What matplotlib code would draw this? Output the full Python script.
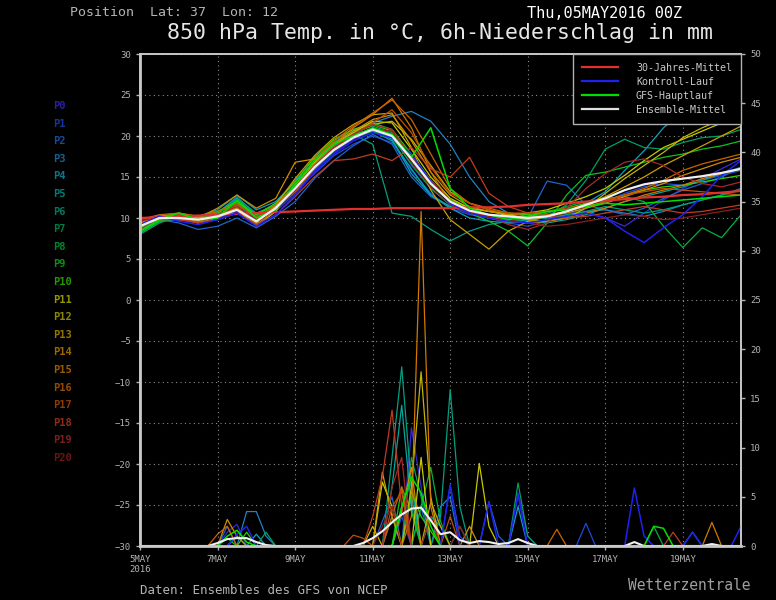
import numpy as np
from matplotlib import pyplot as plt
from matplotlib.lines import Line2D

plt.rcParams['font.family'] = ['DejaVu Sans Mono', 'DejaVu Sans']

# Zeitachse: Tage ab 05MAY2016 00Z
tage_t = np.arange(0, 16, 0.5)      # Temperatur, 12h
tage_r = np.arange(0, 15.75, 0.25)  # Niederschlag, 6h
n_r = len(tage_r)

x_ticks = [0, 2, 4, 6, 8, 10, 12, 14]
x_labels = ['5MAY\n2016', '7MAY', '9MAY', '11MAY', '13MAY', '15MAY', '17MAY', '19MAY']

# 850 hPa Temperatur (°C)
t_klima = [10.0, 10.1, 10.2, 10.3, 10.4, 10.5, 10.6, 10.7, 10.8, 10.9, 11.0, 11.1, 11.1, 11.2, 11.2, 11.2,
           11.2, 11.3, 11.3, 11.4, 11.6, 11.7, 11.8, 12.0, 12.1, 12.3, 12.5, 12.6, 12.8, 12.9, 13.1, 13.3]
t_mittel = [9.0, 10.0, 10.0, 9.8, 10.2, 11.0, 9.6, 11.2, 13.6, 16.2, 18.3, 19.8, 20.8, 20.0, 17.2, 14.2,
            12.0, 10.9, 10.4, 10.2, 10.0, 10.2, 10.8, 11.6, 12.4, 13.4, 14.1, 14.5, 14.8, 15.1, 15.5, 16.0]
t_kontroll = [9.2, 10.2, 9.6, 9.2, 9.8, 10.6, 9.0, 10.4, 12.8, 15.6, 17.8, 19.4, 20.4, 19.8, 17.8, 14.4,
              11.8, 10.6, 10.0, 9.6, 9.4, 9.8, 10.2, 10.6, 10.0, 8.4, 7.0, 8.8, 10.4, 12.6, 15.2, 17.0]
t_haupt = [8.4, 9.8, 10.6, 9.8, 10.0, 12.2, 10.0, 11.0, 14.0, 17.0, 19.0, 20.0, 21.0, 20.2, 17.4, 21.0,
           13.6, 11.2, 10.4, 9.8, 10.2, 10.8, 11.0, 11.4, 11.8, 11.6, 11.8, 12.0, 12.2, 12.4, 12.6, 12.8]

t_p0 = [9.0, 10.4, 9.8, 9.4, 10.0, 10.8, 9.2, 10.8, 13.0, 15.8, 18.0, 19.6, 20.6, 20.2, 16.4, 13.6,
        11.6, 10.6, 10.0, 9.6, 9.8, 10.6, 11.2, 10.8, 10.0, 9.0, 10.6, 12.2, 13.6, 14.8, 16.0, 17.2]
t_p1 = [9.4, 10.0, 10.2, 9.6, 10.4, 11.4, 9.8, 11.0, 13.2, 15.4, 17.6, 19.0, 20.0, 19.2, 15.8, 13.0,
        11.2, 10.4, 10.0, 9.4, 9.0, 9.6, 10.4, 11.2, 12.0, 13.0, 13.8, 14.2, 14.0, 14.6, 15.2, 15.8]
t_p2 = [8.8, 9.8, 9.4, 8.6, 9.0, 10.0, 8.8, 10.2, 12.0, 14.8, 17.0, 18.8, 20.2, 19.0, 15.0, 12.6,
        11.4, 10.6, 10.2, 10.4, 10.0, 14.5, 14.0, 11.6, 11.0, 10.4, 11.2, 12.4, 13.4, 14.2, 15.0, 16.2]
t_p3 = [9.2, 10.2, 10.0, 9.4, 10.6, 12.6, 10.4, 11.8, 14.6, 17.2, 19.4, 20.8, 21.6, 22.4, 23.0, 21.8,
        19.0, 15.0, 12.0, 10.6, 10.4, 10.0, 10.2, 10.8, 11.0, 10.6, 10.2, 10.8, 11.6, 12.2, 12.8, 13.6]
t_p4 = [8.6, 9.6, 10.0, 10.2, 11.0, 12.8, 11.0, 12.0, 14.4, 16.8, 18.8, 20.2, 20.8, 19.6, 15.4, 12.8,
        11.2, 10.0, 9.6, 9.4, 9.8, 10.2, 10.8, 11.8, 13.2, 15.8, 18.2, 21.0, 23.0, 24.0, 24.5, 24.5]
t_p5 = [8.2, 9.6, 9.8, 10.0, 10.6, 12.4, 10.2, 11.4, 13.8, 16.4, 18.6, 20.0, 20.6, 19.4, 16.0, 12.8,
        11.4, 10.8, 10.4, 10.0, 9.6, 9.4, 9.8, 10.4, 11.2, 12.0, 12.6, 13.2, 13.8, 14.6, 15.4, 16.2]
t_p6 = [8.0, 9.4, 10.2, 10.0, 10.4, 12.4, 10.6, 11.6, 13.8, 16.6, 18.8, 20.2, 19.0, 10.6, 10.2, 8.6,
        7.2, 8.4, 9.2, 9.6, 9.8, 10.0, 10.4, 10.8, 11.4, 11.0, 10.6, 11.0, 11.6, 12.2, 12.8, 13.4]
t_p7 = [8.6, 9.8, 10.4, 9.8, 10.6, 12.0, 10.2, 11.4, 14.2, 17.0, 19.2, 20.4, 21.2, 20.4, 17.0, 14.0,
        12.0, 10.8, 10.4, 10.0, 9.8, 10.2, 11.6, 14.6, 18.4, 19.6, 18.6, 18.4, 19.2, 19.8, 20.0, 20.8]
t_p8 = [8.4, 9.6, 10.0, 9.6, 10.2, 11.6, 10.0, 11.0, 13.4, 16.0, 18.2, 19.8, 20.6, 19.8, 16.6, 13.6,
        11.6, 10.8, 10.4, 10.2, 10.0, 10.6, 11.4, 12.0, 12.4, 12.6, 12.0, 9.0, 6.4, 8.8, 7.6, 10.4]
t_p9 = [8.2, 9.6, 10.4, 10.0, 10.6, 11.8, 10.4, 11.6, 14.0, 17.0, 19.2, 20.6, 21.6, 20.8, 17.8, 14.6,
        12.0, 10.6, 9.6, 8.4, 6.6, 9.4, 12.8, 15.2, 15.6, 16.2, 16.8, 17.4, 17.8, 18.4, 18.8, 19.4]
t_p10 = [8.8, 10.2, 10.6, 10.2, 10.8, 12.0, 10.4, 11.8, 14.4, 17.4, 19.6, 20.8, 21.4, 20.6, 17.6, 14.4,
         12.2, 11.2, 10.8, 10.6, 10.4, 10.8, 11.2, 11.8, 12.2, 12.8, 13.4, 13.8, 14.0, 14.4, 14.8, 15.2]
t_p11 = [9.0, 10.0, 9.8, 9.8, 10.4, 11.2, 9.4, 11.4, 14.0, 16.8, 19.0, 20.4, 21.8, 21.6, 18.4, 15.0,
         12.4, 11.2, 10.8, 10.4, 10.6, 11.0, 11.8, 12.6, 13.6, 15.2, 17.0, 18.6, 19.6, 20.6, 21.6, 22.6]
t_p12 = [9.2, 9.8, 10.2, 10.0, 10.2, 11.0, 9.0, 10.8, 14.0, 16.4, 18.6, 20.2, 21.4, 21.8, 19.6, 16.4,
         13.2, 11.8, 11.0, 10.2, 9.8, 9.6, 10.0, 11.2, 13.0, 14.8, 16.4, 18.0, 19.8, 21.0, 22.0, 22.4]
t_p13 = [9.4, 10.2, 10.0, 9.6, 10.2, 11.4, 9.4, 11.6, 14.8, 17.6, 19.8, 21.4, 22.6, 22.8, 18.6, 13.4,
         9.8, 8.0, 6.2, 8.4, 9.6, 10.2, 10.8, 11.6, 12.6, 13.8, 15.0, 16.4, 17.6, 18.8, 20.0, 21.2]
t_p14 = [9.6, 10.2, 10.4, 10.0, 11.2, 12.8, 11.2, 12.4, 16.8, 17.2, 19.0, 20.6, 22.0, 22.6, 19.4, 15.6,
         12.8, 11.4, 10.8, 10.4, 10.0, 10.2, 10.6, 11.2, 11.8, 12.6, 13.4, 14.2, 15.2, 16.0, 16.8, 17.4]
t_p15 = [9.4, 9.8, 10.0, 9.4, 10.0, 11.2, 9.2, 11.0, 13.6, 16.6, 19.0, 21.0, 22.6, 24.6, 21.0, 15.6,
         11.8, 10.8, 10.2, 9.6, 9.4, 9.6, 10.0, 10.6, 11.2, 12.0, 12.8, 13.4, 14.0, 14.8, 15.4, 16.0]
t_p16 = [9.8, 10.4, 10.6, 10.2, 10.8, 11.8, 10.0, 11.6, 14.0, 17.0, 19.4, 21.2, 22.8, 24.4, 22.0, 17.8,
         13.6, 11.8, 11.2, 10.6, 10.2, 10.4, 10.8, 11.4, 12.0, 12.8, 13.6, 14.6, 15.8, 16.6, 17.2, 17.8]
t_p17 = [9.2, 10.2, 9.8, 9.6, 10.4, 11.6, 10.2, 11.2, 13.2, 16.0, 18.4, 20.2, 21.6, 23.2, 20.4, 16.2,
         13.0, 11.8, 11.0, 10.6, 10.6, 10.8, 11.2, 11.6, 12.2, 12.8, 13.2, 13.6, 13.4, 13.2, 13.0, 12.8]
t_p18 = [8.6, 9.8, 9.8, 9.4, 9.8, 10.6, 9.2, 10.4, 12.6, 15.0, 17.0, 17.2, 17.8, 17.0, 18.6, 16.0,
         15.0, 17.4, 13.0, 11.4, 10.6, 10.2, 10.0, 10.2, 10.6, 11.0, 11.4, 11.0, 10.6, 10.8, 11.2, 11.6]
t_p19 = [9.0, 10.0, 10.4, 9.8, 10.4, 11.4, 9.8, 11.2, 13.8, 16.4, 18.6, 20.2, 21.4, 20.8, 17.4, 14.6,
         12.0, 10.8, 10.2, 9.2, 8.6, 9.4, 11.2, 13.6, 15.4, 16.8, 17.2, 16.4, 15.0, 14.2, 13.8, 14.4]
t_p20 = [9.6, 10.2, 10.0, 9.8, 10.2, 11.0, 9.6, 11.0, 13.4, 16.2, 18.4, 19.8, 20.8, 20.6, 16.8, 13.8,
         11.6, 10.6, 10.2, 9.8, 9.4, 9.0, 9.2, 9.6, 10.0, 10.4, 10.2, 9.8, 10.0, 10.4, 10.8, 11.2]

# 6h-Niederschlag (mm), nur Termine mit Regen: {6h-Index: mm}
r_mittel = {8: 0.3, 9: 0.7, 10: 0.8, 11: 0.8, 12: 0.4, 13: 0.1, 23: 0.3, 24: 0.8, 25: 1.5, 26: 2.4,
            27: 3.2, 28: 3.8, 29: 3.9, 30: 2.6, 31: 1.2, 32: 1.4, 33: 0.6, 34: 0.3, 35: 0.5, 36: 0.4,
            37: 0.2, 38: 0.3, 39: 0.7, 40: 0.3, 51: 0.4, 59: 0.2}
r_kontroll = {10: 1.2, 11: 2.0, 32: 6.2, 36: 4.5, 39: 5.2, 51: 5.9, 52: 1.0, 57: 1.4, 62: 2.0}
r_haupt = {9: 1.0, 10: 1.6, 11: 0.4, 27: 4.0, 28: 7.0, 29: 5.4, 30: 2.0, 53: 2.0, 54: 1.8}

r_p0 = {9: 1.4, 10: 2.2, 28: 12.0, 29: 6.0, 39: 5.4, 40: 1.0}
r_p1 = {10: 1.0, 27: 3.0, 32: 6.2, 33: 1.0, 46: 2.3}
r_p2 = {9: 2.0, 25: 2.5, 26: 5.0, 29: 4.0, 36: 4.5, 37: 1.0}
r_p3 = {11: 3.5, 12: 3.5, 13: 1.0, 27: 4.0, 28: 6.5, 31: 4.0, 32: 5.0}
r_p4 = {12: 1.2, 26: 3.0, 28: 5.0, 39: 4.0, 57: 1.4}
r_p5 = {26: 6.0, 27: 14.3, 28: 4.0, 30: 3.0, 31: 2.0}
r_p6 = {26: 9.0, 27: 18.2, 28: 6.0, 31: 3.0, 32: 15.9, 33: 4.0}
r_p7 = {13: 1.4, 28: 9.0, 29: 5.0, 33: 2.0, 39: 6.4, 40: 1.0}
r_p8 = {10: 1.0, 29: 4.0, 30: 8.0, 31: 2.5, 53: 2.0}
r_p9 = {9: 0.8, 27: 6.0, 28: 3.5}
r_p10 = {11: 1.4, 28: 5.5, 29: 3.0, 30: 1.5}
r_p11 = {25: 6.5, 26: 4.0, 29: 9.0, 35: 8.4, 36: 2.0}
r_p12 = {24: 2.0, 28: 6.0, 29: 17.7, 30: 5.0}
r_p13 = {25: 7.5, 26: 3.0, 30: 4.5, 31: 2.0}
r_p14 = {9: 2.7, 10: 1.0, 27: 3.5, 28: 8.0, 34: 2.0}
r_p15 = {28: 3.0, 29: 34.0, 30: 4.0, 59: 2.4}
r_p16 = {8: 1.2, 9: 2.0, 26: 3.0, 27: 6.0, 43: 1.7}
r_p17 = {22: 1.1, 23: 0.8, 26: 4.0, 27: 5.5, 32: 3.0}
r_p18 = {24: 3.0, 25: 7.0, 26: 13.8, 27: 4.0, 55: 1.4}
r_p19 = {26: 6.0, 27: 9.0, 30: 3.0}
r_p20 = {25: 2.0, 26: 4.0, 33: 2.0}

t_members = [t_p0, t_p1, t_p2, t_p3, t_p4, t_p5, t_p6, t_p7, t_p8, t_p9, t_p10,
             t_p11, t_p12, t_p13, t_p14, t_p15, t_p16, t_p17, t_p18, t_p19, t_p20]
r_members = [r_p0, r_p1, r_p2, r_p3, r_p4, r_p5, r_p6, r_p7, r_p8, r_p9, r_p10,
             r_p11, r_p12, r_p13, r_p14, r_p15, r_p16, r_p17, r_p18, r_p19, r_p20]

farben = ['#3a2ad8', '#2048d8', '#1e64d0', '#2080c0', '#10a0b8', '#00a8a0', '#00a080', '#00a060',
          '#00b040', '#10c020', '#30d000', '#c8c800', '#c0b400', '#c8a000', '#d08c00', '#d07800',
          '#c86400', '#c05000', '#c03c20', '#a82828', '#901c1c']


def regen(d):
    r = np.zeros(n_r)
    for i, v in d.items():
        r[i] = v
    return r


grau = '#b4b4b4'

fig = plt.figure(figsize=(7.76, 6.0), dpi=100, facecolor='black')
ax = fig.add_axes([140 / 776, 54 / 600, 601 / 776, 492 / 600])
ax.set_facecolor('black')
ax2 = ax.twinx()

# Temperatur
for t, c in zip(t_members, farben):
    ax.plot(tage_t, t, color=c, lw=0.9)
ax.plot(tage_t, t_klima, color='#e03030', lw=1.6)
ax.plot(tage_t, t_kontroll, color='#2020f0', lw=1.1)
ax.plot(tage_t, t_haupt, color='#00e000', lw=1.1)
ax.plot(tage_t, t_mittel, color='#f0f0f0', lw=1.6)

# Niederschlag
for r, c in zip(r_members, farben):
    ax2.plot(tage_r, regen(r), color=c, lw=0.9)
ax2.plot(tage_r, regen(r_kontroll), color='#2020f0', lw=1.1)
ax2.plot(tage_r, regen(r_haupt), color='#00e000', lw=1.1)
ax2.plot(tage_r, regen(r_mittel), color='#f0f0f0', lw=1.5)

ax.set_xlim(0, 15.5)
ax.set_ylim(-30, 30)
ax2.set_ylim(0, 50)
ax.set_yticks(range(-30, 31, 5))
ax2.set_yticks(range(0, 51, 5))
ax.set_xticks(x_ticks)
ax.set_xticklabels(x_labels)
ax.grid(True, color='#8c8c8c', linestyle=(0, (1, 3)), lw=0.8)
ax.set_axisbelow(True)

ax.tick_params(colors=grau, labelsize=6.5, length=3, width=1)
ax2.tick_params(colors=grau, labelsize=6.5, length=3, width=1)
for a in (ax, ax2):
    for s in a.spines.values():
        s.set_color('#c8c8c8')
        s.set_linewidth(1.2)
ax.spines['left'].set_linewidth(2)
ax.spines['bottom'].set_linewidth(2)

handles = [Line2D([], [], color='#e03030', lw=1.6), Line2D([], [], color='#2020f0', lw=1.6),
           Line2D([], [], color='#00e000', lw=1.6), Line2D([], [], color='#e0e0e0', lw=1.6)]
labels = ['30-Jahres-Mittel', 'Kontroll-Lauf', 'GFS-Hauptlauf', 'Ensemble-Mittel']
leg = ax2.legend(handles, labels, loc='upper right', bbox_to_anchor=(1, 1), borderaxespad=0,
                 fontsize=7.2, facecolor='black', edgecolor='#b0b0b0', framealpha=1,
                 labelcolor='#c8c8c8', handlelength=3.6, handletextpad=1.8, labelspacing=0.4,
                 fancybox=False, borderpad=0.9)
leg.get_frame().set_linewidth(1.0)

for i, c in enumerate(farben):
    fig.text(53 / 776, 1 - (106 + i * 17.6) / 600, 'P%d' % i, color=c, alpha=0.75,
             fontsize=7.5, weight='bold', va='center', ha='left')

fig.text(70 / 776, 1 - 13 / 600, 'Position  Lat: 37  Lon: 12', color=grau, fontsize=9.5, va='center')
fig.text(527 / 776, 1 - 13 / 600, 'Thu,05MAY2016 00Z', color='white', fontsize=11, va='center')
fig.text(440 / 776, 1 - 33 / 600, '850 hPa Temp. in °C, 6h-Niederschlag in mm', color='#e6e6e6',
         fontsize=15.5, ha='center', va='center')
fig.text(140 / 776, 1 - 590 / 600, 'Daten: Ensembles des GFS von NCEP', color=grau, fontsize=9,
         va='center')
fig.text(750 / 776, 1 - 585 / 600, 'Wetterzentrale', color='#a0a0a0', fontsize=10.5, ha='right',
         va='center')

fig.savefig('out.png', dpi=100, facecolor='black')
